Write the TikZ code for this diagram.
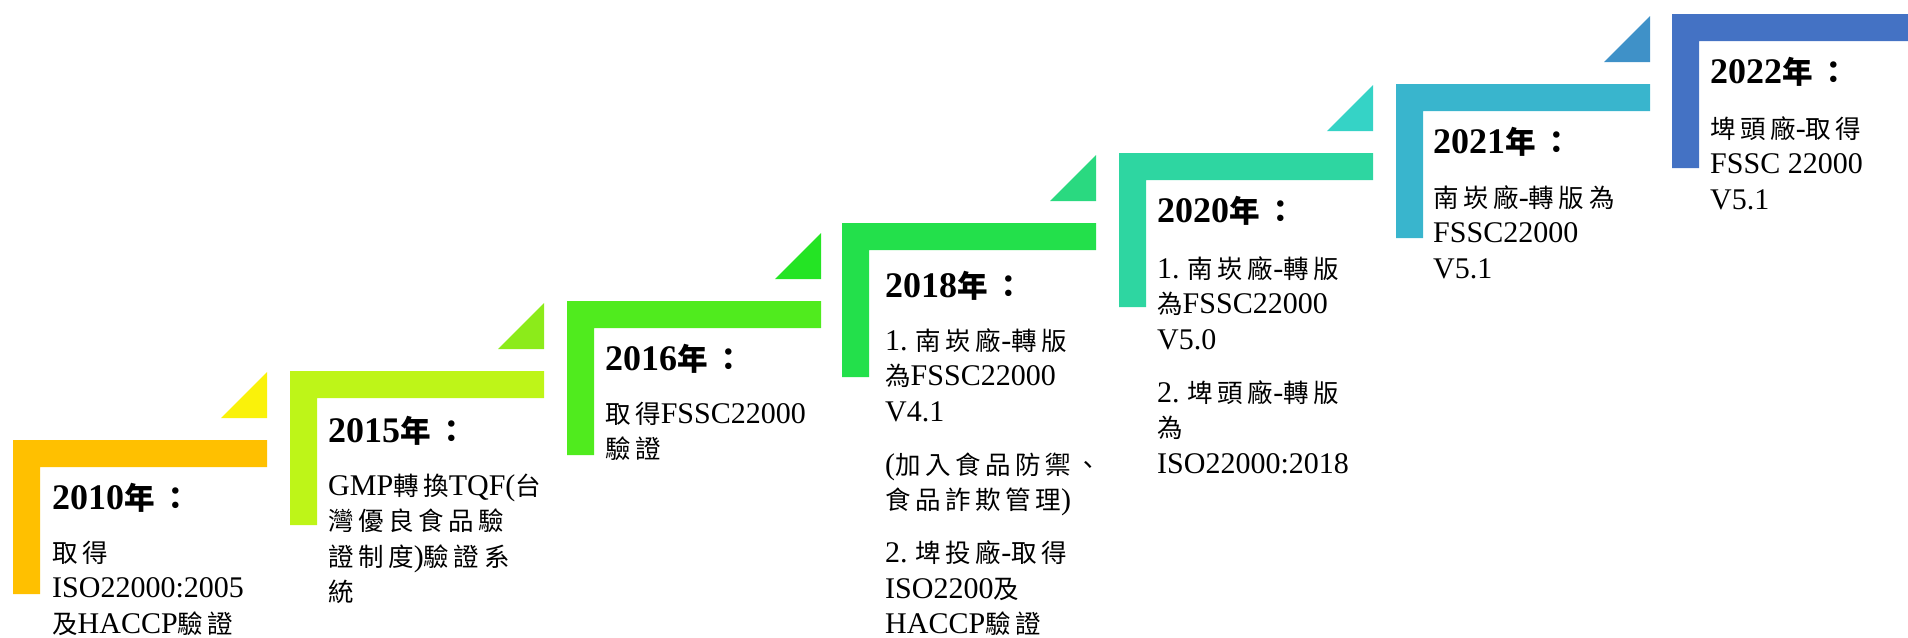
\documentclass[tikz,border=0pt]{standalone}
\usepackage{fontspec}
\setmainfont{Liberation Serif}
\newfontfamily\zhfont[Scale=0.85, LetterSpace=18]{Noto Sans CJK TC}
\newcommand{\zh}[1]{{\zhfont #1}}
\newcommand{\firstline}{\rule{0pt}{28pt}}
\definecolor{bar10}{RGB}{255, 192, 0}
\definecolor{tip10}{RGB}{250, 242, 10}
\definecolor{bar15}{RGB}{190, 245, 24}
\definecolor{tip15}{RGB}{140, 235, 26}
\definecolor{bar16}{RGB}{80, 235, 30}
\definecolor{tip16}{RGB}{36, 228, 36}
\definecolor{bar18}{RGB}{35, 224, 75}
\definecolor{tip18}{RGB}{42, 217, 128}
\definecolor{bar20}{RGB}{46, 214, 161}
\definecolor{tip20}{RGB}{53, 211, 198}
\definecolor{bar21}{RGB}{57, 181, 205}
\definecolor{tip21}{RGB}{63, 145, 200}
\definecolor{bar22}{RGB}{68, 114, 196}
\usepackage{tikz}

\begin{document}
\begin{tikzpicture}[x=1pt, y=-1pt,
  year/.style={anchor=base west, inner sep=0pt, font=\fontsize{36}{40}\selectfont\bfseries},
  body/.style={anchor=north west, inner sep=0pt, align=left, font=\fontsize{30}{35.5}\selectfont}]
  \useasboundingbox (0,0) rectangle (1908,637);
  \clip (0,0) rectangle (1908,637);

  % the steps, each with its corner flag
  \foreach \lx/\ty/\bc/\tc in {13/440/bar10/tip10, 290/371/bar15/tip15, 567/301/bar16/tip16,
      842/223/bar18/tip18, 1119/153/bar20/tip20, 1396/84/bar21/tip21}{
    \begin{scope}[shift={(\lx,\ty)}]
      \fill[\bc] (0,0) -- (254,0) -- (254,27) -- (27,27) -- (27,154) -- (0,154) -- cycle;
      \fill[\tc] (208,-22) -- (254,-22) -- (254,-68) -- cycle;
    \end{scope}
  }
  \fill[bar22] (1672,14) -- (1926,14) -- (1926,41) -- (1699,41) -- (1699,168) -- (1672,168) -- cycle;

  % years and what was done
  \node[year] (y2010) at (52,509) {2010\zh{年：}};
  \node[body] (t2010) at (52,534) {\firstline\zh{取得}\\ISO22000:2005\\\zh{及}HACCP\zh{驗證}};

  \node[year] (y2015) at (328,442) {2015\zh{年：}};
  \node[body] (t2015) at (328,467) {\firstline GMP\zh{轉換}TQF(\zh{台}\\\zh{灣優良食品驗}\\\zh{證制度})\zh{驗證系}\\\zh{統}};

  \node[year] (y2016) at (605,370) {2016\zh{年：}};
  \node[body] (t2016) at (605,395) {\firstline\zh{取得}FSSC22000\\\zh{驗證}};

  \node[year] (y2018) at (885,297) {2018\zh{年：}};
  \node[body] (t2018) at (885,322) {\firstline 1.\hspace{8pt}\zh{南崁廠}-\zh{轉版}\\\zh{為}FSSC22000\\V4.1\\[17.5pt]
    (\zh{加入食品防禦、}\\\zh{食品詐欺管理})\\[17.5pt]
    2.\hspace{8pt}\zh{埤投廠}-\zh{取得}\\ISO2200\zh{及}\\HACCP\zh{驗證}};

  \node[year] (y2020) at (1157,222) {2020\zh{年：}};
  \node[body] (t2020) at (1157,250) {\firstline 1.\hspace{8pt}\zh{南崁廠}-\zh{轉版}\\\zh{為}FSSC22000\\V5.0\\[17.5pt]
    2.\hspace{8pt}\zh{埤頭廠}-\zh{轉版}\\\zh{為}\\ISO22000:2018};

  \node[year] (y2021) at (1433,153) {2021\zh{年：}};
  \node[body] (t2021) at (1433,179) {\firstline\zh{南崁廠}-\zh{轉版為}\\FSSC22000\\V5.1};

  \node[year] (y2022) at (1710,83) {2022\zh{年：}};
  \node[body] (t2022) at (1710,110) {\firstline\zh{埤頭廠}-\zh{取得}\\FSSC 22000\\V5.1};
\end{tikzpicture}
\end{document}
